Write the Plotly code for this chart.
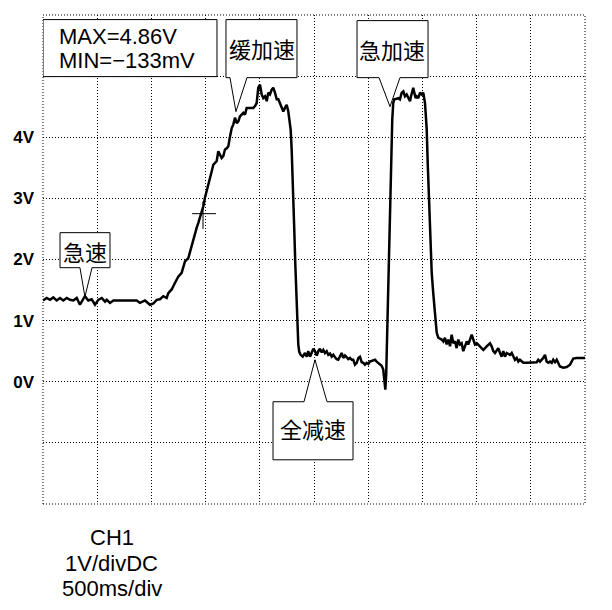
import plotly.graph_objects as go

# ---- data ----
time_ms = [
    0, 34, 65, 95, 126, 157, 187, 219, 249, 280,
    311, 341, 387, 418, 449, 480, 510, 542, 572, 588,
    618, 649, 741, 864, 895, 941, 987, 1018, 1049, 1079,
    1110, 1141, 1156, 1187, 1218, 1248, 1279, 1294, 1310, 1340,
    1356, 1372, 1387, 1402, 1418, 1433, 1448, 1464, 1479, 1494,
    1510, 1525, 1541, 1556, 1571, 1587, 1602, 1617, 1633, 1648,
    1663, 1679, 1695, 1709, 1725, 1732, 1741, 1756, 1771, 1787,
    1802, 1817, 1833, 1848, 1863, 1879, 1910, 1940, 1956, 1971,
    1986, 2002, 2017, 2032, 2048, 2064, 2078, 2094, 2110, 2124,
    2140, 2156, 2171, 2186, 2202, 2217, 2232, 2248, 2263, 2279,
    2285, 2294, 2303, 2309, 2318, 2327, 2337, 2346, 2355, 2364,
    2377, 2396, 2417, 2433, 2447, 2463, 2479, 2494, 2509, 2525,
    2540, 2555, 2571, 2586, 2601, 2617, 2632, 2648, 2663, 2678,
    2694, 2709, 2724, 2740, 2755, 2770, 2786, 2802, 2816, 2832,
    2848, 2862, 2878, 2894, 2909, 2924, 2940, 2955, 2970, 2986,
    3001, 3016, 3047, 3063, 3078, 3093, 3109, 3124, 3139, 3148,
    3158, 3166, 3172, 3180, 3185, 3192, 3201, 3208, 3217, 3222,
    3231, 3241, 3263, 3278, 3293, 3309, 3324, 3339, 3355, 3370,
    3386, 3395, 3407, 3416, 3425, 3438, 3447, 3462, 3478, 3493,
    3508, 3517, 3524, 3530, 3540, 3549, 3561, 3570, 3579, 3586,
    3600, 3616, 3625, 3632, 3647, 3678, 3693, 3708, 3724, 3739,
    3755, 3770, 3785, 3801, 3816, 3831, 3847, 3862, 3877, 3893,
    3909, 3923, 3939, 3955, 3970, 3985, 4001, 4031, 4062, 4093,
    4124, 4139, 4154, 4170, 4185, 4200, 4216, 4231, 4246, 4262,
    4278, 4308, 4324, 4339, 4354, 4370, 4385, 4400, 4431, 4462,
    4493, 4523, 4554, 4569, 4585, 4615, 4631, 4646, 4661, 4677,
    4693, 4707, 4723, 4739, 4754, 4769, 4800, 4831, 4862, 4877,
    4892, 4923, 5000,
]
ch1_v = [
    1.33, 1.37, 1.34, 1.38, 1.33, 1.37, 1.33, 1.37, 1.34, 1.33,
    1.37, 1.26, 1.40, 1.33, 1.35, 1.26, 1.34, 1.37, 1.31, 1.34,
    1.29, 1.33, 1.33, 1.33, 1.29, 1.33, 1.26, 1.28, 1.34, 1.35,
    1.40, 1.37, 1.45, 1.51, 1.62, 1.72, 1.78, 1.89, 1.97, 2.02,
    2.13, 2.24, 2.30, 2.41, 2.52, 2.60, 2.68, 2.76, 2.87, 3.01,
    3.11, 3.22, 3.33, 3.44, 3.55, 3.58, 3.61, 3.77, 3.72, 3.66,
    3.69, 3.80, 3.82, 3.85, 4.01, 4.10, 4.15, 4.21, 4.32, 4.23,
    4.26, 4.34, 4.37, 4.40, 4.37, 4.48, 4.48, 4.48, 4.51, 4.56,
    4.81, 4.86, 4.70, 4.64, 4.67, 4.59, 4.73, 4.70, 4.78, 4.81,
    4.73, 4.62, 4.62, 4.56, 4.51, 4.42, 4.48, 4.53, 4.42, 4.21,
    4.12, 3.80, 3.39, 2.98, 2.49, 1.95, 1.41, 0.93, 0.61, 0.49,
    0.44, 0.41, 0.47, 0.41, 0.50, 0.41, 0.47, 0.54, 0.50, 0.43,
    0.50, 0.54, 0.48, 0.52, 0.47, 0.50, 0.44, 0.46, 0.41, 0.44,
    0.40, 0.37, 0.36, 0.41, 0.47, 0.39, 0.43, 0.40, 0.37, 0.39,
    0.36, 0.36, 0.28, 0.31, 0.39, 0.41, 0.32, 0.31, 0.28, 0.31,
    0.29, 0.33, 0.35, 0.36, 0.33, 0.31, 0.28, 0.26, 0.20, 0.07,
    -0.13, 0.11, 0.58, 1.12, 1.67, 2.21, 2.76, 3.31, 3.85, 4.29,
    4.56, 4.62, 4.63, 4.64, 4.62, 4.73, 4.75, 4.67, 4.70, 4.64,
    4.59, 4.67, 4.75, 4.81, 4.73, 4.64, 4.67, 4.64, 4.73, 4.70,
    4.73, 4.64, 4.56, 4.40, 4.12, 3.58, 3.03, 2.49, 2.11, 1.78,
    1.45, 1.18, 0.91, 0.80, 0.72, 0.69, 0.66, 0.72, 0.61, 0.69,
    0.58, 0.77, 0.63, 0.66, 0.55, 0.69, 0.61, 0.63, 0.50, 0.58,
    0.66, 0.61, 0.69, 0.77, 0.69, 0.61, 0.63, 0.58, 0.52, 0.58,
    0.63, 0.58, 0.50, 0.47, 0.52, 0.55, 0.47, 0.41, 0.50, 0.41,
    0.47, 0.44, 0.47, 0.41, 0.36, 0.39, 0.33, 0.36, 0.31, 0.31,
    0.31, 0.31, 0.32, 0.36, 0.33, 0.39, 0.44, 0.33, 0.31, 0.33,
    0.31, 0.36, 0.32, 0.36, 0.31, 0.25, 0.23, 0.24, 0.28, 0.33,
    0.38, 0.39, 0.39,
]

y_tick_vals = [-2, -1, 0, 1, 2, 3, 4, 5, 6]
y_tick_text = ["", "", "0V", "1V", "2V", "3V", "4V", "", ""]
measure_lines = ["MAX=4.86V", "MIN=\u2212133mV"]
callout_labels = ["急速", "缓加速", "全减速", "急加速"]
scope_info = ["CH1", "1V/divDC", "500ms/div"]

LATIN = "Liberation Sans, Arial, sans-serif"
CJK = "Noto Sans CJK SC, sans-serif"
DOT = "1px,2px"

fig = go.Figure()
fig.add_trace(go.Scatter(
    x=time_ms, y=ch1_v, mode="lines",
    line=dict(color="black", width=2.5),
    hoverinfo="skip", showlegend=False,
))

# the page body adds an 8px margin, so the figure is sized to fit the window
fig.update_layout(
    width=604, height=602,
    margin=dict(l=35, r=27, t=7, b=106),
    paper_bgcolor="white", plot_bgcolor="white",
    showlegend=False,
)
fig.update_xaxes(
    range=[0, 5000], tick0=0, dtick=500, showticklabels=False, ticks="",
    showgrid=True, gridcolor="black", gridwidth=1, griddash=DOT,
    zeroline=False, showline=False, automargin=False,
)
fig.update_yaxes(
    range=[-2, 6], tickmode="array", tickvals=y_tick_vals, ticktext=y_tick_text,
    ticks="", showgrid=True, gridcolor="black", gridwidth=1, griddash=DOT,
    zeroline=False, showline=False, ticklabelstandoff=8, automargin=False,
    tickfont=dict(family=LATIN, size=17, color="black", weight="bold"),
)

# dotted outer frame
fig.add_shape(type="rect", xref="paper", yref="paper", x0=0, x1=1, y0=0, y1=1,
              line=dict(color="black", width=1, dash=DOT), layer="between")


def bubble(x0, x1, ytop, ybot, bl, br, tip, pointer_down=True):
    tx, ty = tip
    if pointer_down:
        pts = [(x0, ytop), (x1, ytop), (x1, ybot), (br, ybot), (tx, ty), (bl, ybot), (x0, ybot)]
    else:
        pts = [(x0, ytop), (bl, ytop), (tx, ty), (br, ytop), (x1, ytop), (x1, ybot), (x0, ybot)]
    path = "M " + " L ".join(f"{x},{y}" for x, y in pts) + " Z"
    fig.add_shape(type="path", xref="x", yref="y", path=path,
                  line=dict(color="black", width=1), fillcolor="white", layer="between")


# measurement box
fig.add_shape(type="rect", xref="x", yref="y", x0=0, x1=1605, y0=4.992, y1=5.925,
              line=dict(color="black", width=1), fillcolor="white", layer="between")
fig.add_annotation(x=129, y=5.646, text=measure_lines[0], showarrow=False,
                   xanchor="left", yanchor="middle",
                   font=dict(family=LATIN, size=22, color="black"))
fig.add_annotation(x=129, y=5.254, text=measure_lines[1], showarrow=False,
                   xanchor="left", yanchor="middle",
                   font=dict(family=LATIN, size=22, color="black"))

# callouts: label, box, pointer, text centre
callouts = [
    (callout_labels[0], (157, 618, 2.439, 1.866, 341, 452, (387, 1.391), True), (387, 2.144)),
    (callout_labels[1], (1688, 2343, 5.925, 4.975, 1725, 1882, (1780, 4.419), True), (2016, 5.466)),
    (callout_labels[2], (2122, 2860, -0.327, -1.277, 2408, 2620, (2509, 0.360), False), (2491, -0.753)),
    (callout_labels[3], (2897, 3552, 5.908, 4.975, 3100, 3293, (3201, 4.501), True), (3224, 5.450)),
]
for label, geom, (tx, ty) in callouts:
    bubble(*geom)
    fig.add_annotation(x=tx, y=ty, text=label, showarrow=False,
                       xanchor="center", yanchor="middle",
                       font=dict(family=CJK, size=22, color="black"))

# cursor cross
fig.add_shape(type="line", xref="x", yref="y", x0=1375, x1=1596, y0=2.75, y1=2.75,
              line=dict(color="black", width=1))
fig.add_shape(type="line", xref="x", yref="y", x0=1476, x1=1476, y0=2.5, y1=2.95,
              line=dict(color="black", width=1))

# scope settings text (below the screen, in paper coordinates)
for txt, yy in zip(scope_info, [-0.0675, -0.1207, -0.1718]):
    fig.add_annotation(xref="paper", yref="paper", x=0.1273, y=yy, text=txt, showarrow=False,
                       xanchor="center", yanchor="middle",
                       font=dict(family=LATIN, size=22, color="black"))

fig.write_html("out.html")
